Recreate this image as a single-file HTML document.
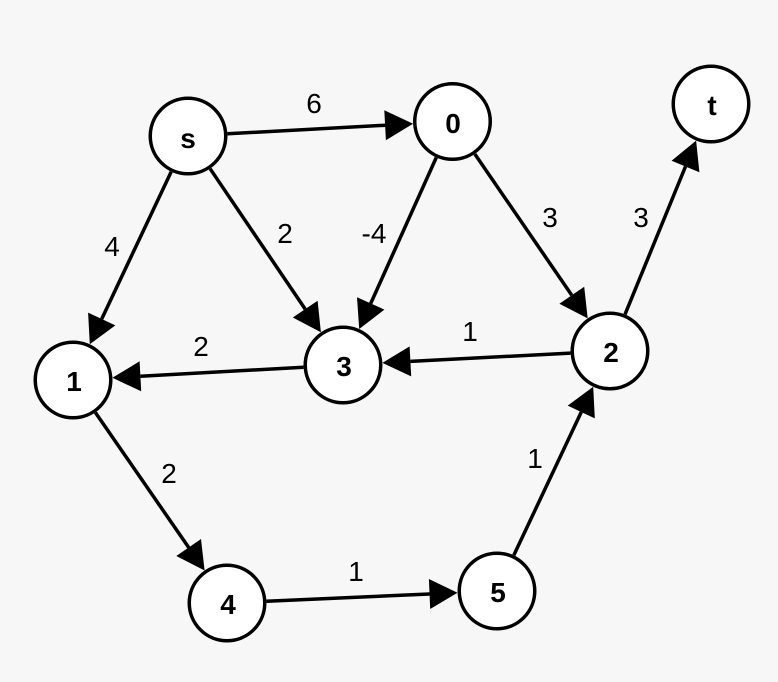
<!DOCTYPE html>
<html>
<head>
<meta charset="utf-8">
<style>
  html,body{margin:0;padding:0;background:#f7f7f7;}
  svg{display:block;}
  .e{font-family:"Liberation Sans",sans-serif;font-size:28px;fill:#000;text-anchor:middle;}
  .n{font-family:"Liberation Sans",sans-serif;font-size:28px;font-weight:bold;fill:#000;text-anchor:middle;}
</style>
</head>
<body>
<svg width="778" height="682" viewBox="0 0 778 682" xmlns="http://www.w3.org/2000/svg">
  <rect width="778" height="682" fill="#f7f7f7"/>
  <g stroke="#000" stroke-width="3.5" fill="none">
    <line x1="227.4" y1="133.8" x2="386" y2="125.2"/>
    <line x1="171.2" y1="171.7" x2="101.7" y2="319"/>
    <line x1="210.1" y1="168.7" x2="305.2" y2="309.1"/>
    <line x1="436.3" y1="157.5" x2="370.7" y2="303.5"/>
    <line x1="474.9" y1="154.1" x2="571.8" y2="295.3"/>
    <line x1="625" y1="314.4" x2="685.5" y2="166.5"/>
    <line x1="570.6" y1="353.1" x2="410.4" y2="361.4"/>
    <line x1="303.6" y1="367.2" x2="140.4" y2="376.3"/>
    <line x1="95.4" y1="412.5" x2="188.7" y2="547.5"/>
    <line x1="266.5" y1="601.2" x2="429.6" y2="594"/>
    <line x1="513.8" y1="555.3" x2="581.3" y2="412"/>
  </g>
  <g fill="#000">
    <polygon points="413.1,123.7 385.9,140.2 384.3,110.2"/>
    <polygon points="89.8,344.3 115.3,325.4 88.1,312.6"/>
    <polygon points="320.9,332.3 292.8,317.5 317.6,300.7"/>
    <polygon points="359.2,329 384.4,309.6 357,297.3"/>
    <polygon points="587.7,318.4 559.4,303.8 584.2,286.8"/>
    <polygon points="696.1,140.6 699.4,172.2 671.6,160.8"/>
    <polygon points="382.4,362.9 409.6,346.4 411.2,376.4"/>
    <polygon points="112.4,377.8 141.2,391.3 139.6,361.3"/>
    <polygon points="204.6,570.5 176.3,556 201,539"/>
    <polygon points="457.5,592.8 430.2,609 428.9,579"/>
    <polygon points="593.2,386.7 594.8,418.4 567.7,405.6"/>
  </g>
  <g stroke="#000" stroke-width="3.5" fill="#fff">
    <circle cx="188" cy="136" r="37.75"/>
    <circle cx="452.5" cy="121.5" r="37.75"/>
    <circle cx="711" cy="104" r="37.75"/>
    <circle cx="73" cy="380" r="37.75"/>
    <circle cx="343" cy="365" r="37.75"/>
    <circle cx="610" cy="351" r="37.75"/>
    <circle cx="227" cy="603" r="37.75"/>
    <circle cx="497" cy="591" r="37.75"/>
  </g>
  <g>
    <text class="n" x="188" y="148">s</text>
    <text class="n" x="453" y="133">0</text>
    <text class="n" x="712" y="115">t</text>
    <text class="n" x="74" y="391">1</text>
    <text class="n" x="344" y="376">3</text>
    <text class="n" x="611" y="362">2</text>
    <text class="n" x="228" y="614">4</text>
    <text class="n" x="498" y="602">5</text>
  </g>
  <g>
    <text class="e" x="314" y="113">6</text>
    <text class="e" x="112" y="256">4</text>
    <text class="e" x="285" y="243">2</text>
    <text class="e" x="374" y="243">-4</text>
    <text class="e" x="550" y="227">3</text>
    <text class="e" x="641" y="227">3</text>
    <text class="e" x="201" y="356">2</text>
    <text class="e" x="470" y="341">1</text>
    <text class="e" x="169" y="483">2</text>
    <text class="e" x="535" y="468">1</text>
    <text class="e" x="356" y="581">1</text>
  </g>
</svg>
</body>
</html>
